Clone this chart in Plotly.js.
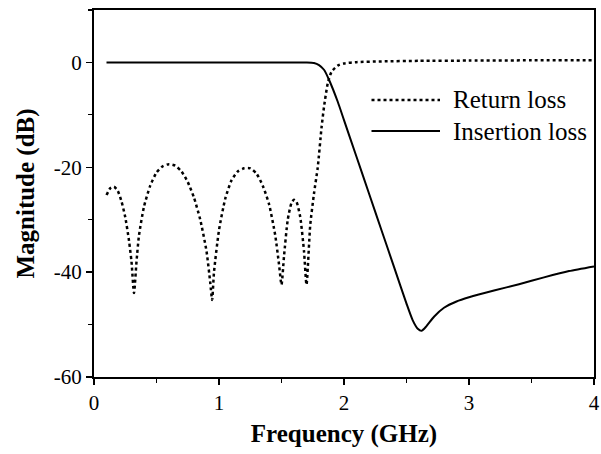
<!DOCTYPE html>
<html><head><meta charset="utf-8">
<script src="https://cdn.plot.ly/plotly-3.0.1.min.js"></script>
<style>html,body{margin:0;padding:0;background:#fff;}</style>
</head><body><div id="chart" style="width:601px;height:454px;"></div>
<script>
const rlFreq = [0.10,0.13,0.16,0.19,0.22,0.25,0.28,0.30,0.32,0.34,0.36,0.40,0.45,0.50,0.55,0.60,0.65,0.70,0.75,0.80,0.85,0.90,0.93,0.945,0.96,1.00,1.05,1.10,1.15,1.20,1.25,1.30,1.35,1.40,1.45,1.48,1.50,1.52,1.55,1.58,1.60,1.62,1.65,1.68,1.70,1.73,1.76,1.79,1.82,1.84,1.87,1.90,1.95,2.00,2.10,2.30,2.60,3.00,3.50,4.00];
const rlDb   = [-25.3,-24.0,-23.7,-24.5,-26.5,-29.5,-34,-38,-44,-38,-33,-27.5,-23.5,-21,-19.8,-19.4,-19.7,-20.8,-22.8,-25.8,-30,-36,-42,-45.3,-40,-32,-26,-22.5,-20.8,-20.2,-20.2,-21.2,-23.5,-27,-33,-38.5,-42.4,-37,-30,-26.8,-26.2,-26.6,-29.5,-36,-42.4,-31,-25,-20,-12.5,-8.5,-4,-1.8,-0.6,-0.2,0.05,0.2,0.3,0.35,0.4,0.4];
const ilFreq = [0.10,0.50,1.00,1.50,1.70,1.76,1.80,1.84,1.88,1.95,2.00,2.10,2.20,2.30,2.40,2.50,2.55,2.59,2.62,2.66,2.72,2.80,2.90,3.00,3.20,3.40,3.60,3.80,4.00];
const ilDb   = [0,0,0,0,0,-0.1,-0.5,-1.4,-3.3,-7.5,-11,-18,-25,-32,-39,-46,-49.2,-50.8,-51.2,-50.3,-48.5,-46.8,-45.6,-44.8,-43.5,-42.3,-41,-39.8,-38.9];
const seriesNames = ["Return loss","Insertion loss"];
const xTicks = [0,1,2,3,4];
const xTickLabels = ["0","1","2","3","4"];
const yTicks = [-60,-40,-20,0];
const yTickLabels = ["-60","-40","-20","0"];

const fontFam = "Liberation Serif, Times New Roman, serif";
const data = [
  {x: rlFreq, y: rlDb, name: seriesNames[0], mode: "lines", type: "scatter",
   line: {color: "#000", width: 2.5, dash: "dot", shape: "spline", smoothing: 0.6}},
  {x: ilFreq, y: ilDb, name: seriesNames[1], mode: "lines", type: "scatter",
   line: {color: "#000", width: 2, shape: "spline", smoothing: 0.6}}
];
const axisCommon = {
  showgrid: false, zeroline: false, showline: true, linecolor: "#000", linewidth: 2,
  mirror: true, ticks: "outside", ticklen: 6, tickwidth: 1.5, tickcolor: "#000",
  ticklabeloverflow: "allow",
  tickfont: {family: fontFam, size: 21, color: "#000"}
};
// manual legend (decoration only), paper coordinates
const legY = [0.755, 0.670];
const legDash = ["dot", "solid"];
const legWidth = [2.5, 2];
const shapes = seriesNames.map((n, i) => ({type: "line", xref: "paper", yref: "paper",
  x0: 0.555, x1: 0.692, y0: legY[i], y1: legY[i], line: {color: "#000", width: legWidth[i], dash: legDash[i]}}));
const annotations = seriesNames.map((n, i) => ({xref: "paper", yref: "paper", x: 0.713, y: legY[i],
  xanchor: "left", yanchor: "middle", text: n, showarrow: false,
  font: {family: fontFam, size: 25, color: "#000"}}));
const layout = {
  width: 601, height: 454,
  margin: {l: 94, r: 7, t: 10, b: 77},
  paper_bgcolor: "#fff", plot_bgcolor: "#fff",
  showlegend: false, shapes: shapes, annotations: annotations,
  xaxis: Object.assign({}, axisCommon, {range: [0, 4], tickvals: xTicks, ticktext: xTickLabels,
    minor: {ticks: "outside", ticklen: 4, tickwidth: 1.2, tickcolor: "#000", dtick: 0.5},
    title: {text: "Frequency (GHz)", font: {family: fontFam, size: 25, color: "#000", weight: "bold"}, standoff: 10}}),
  yaxis: Object.assign({}, axisCommon, {range: [-60, 10], tickvals: yTicks, ticktext: yTickLabels,
    minor: {ticks: "outside", ticklen: 4, tickwidth: 1.2, tickcolor: "#000", dtick: 10},
    title: {text: "Magnitude (dB)", font: {family: fontFam, size: 25, color: "#000", weight: "bold"}, standoff: 12}})
};
Plotly.newPlot("chart", data, layout, {displayModeBar: false, staticPlot: true});
</script></body></html>
